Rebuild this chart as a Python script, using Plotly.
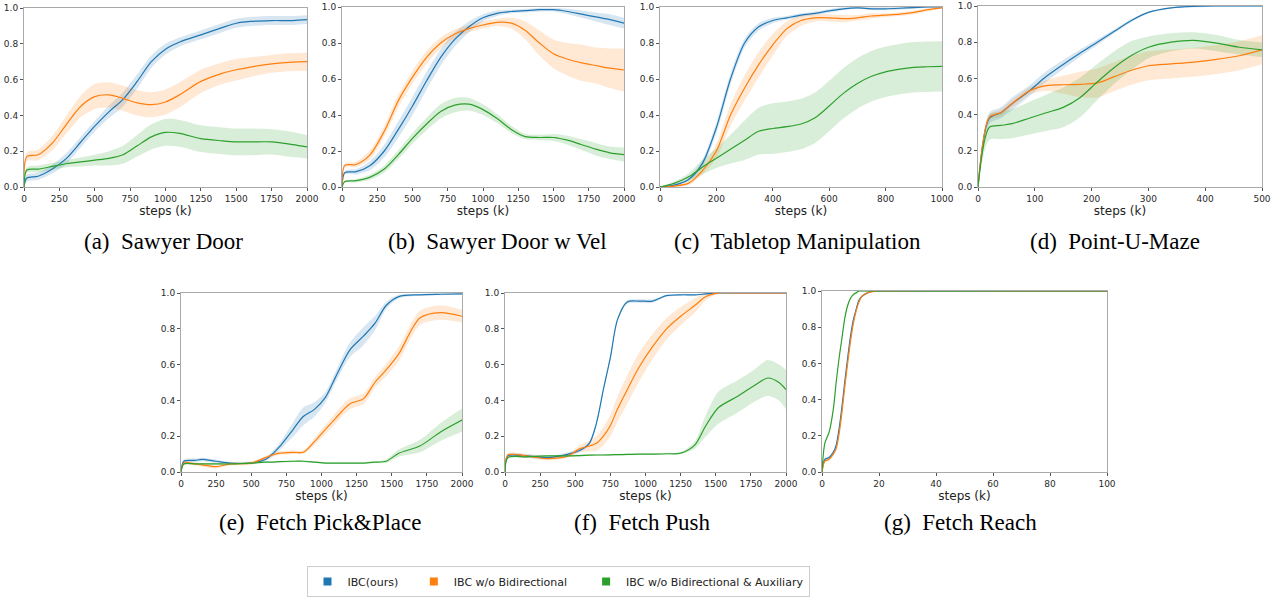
import plotly.graph_objects as go

W, H = 1278, 599

# ---------------- data ----------------
# (a) Sawyer Door
a_x = [0, 20, 100, 200, 300, 400, 500, 600, 700, 800, 900, 1000, 1100, 1250, 1400, 1500, 1600, 1750, 1900, 2000]
a_blue = [0, .05, .06, .1, .16, .25, .34, .42, .49, .59, .70, .77, .81, .85, .89, .915, .925, .93, .93, .935]
a_blue_s = [0, .02, .02, .025, .03, .03, .03, .035, .04, .04, .035, .03, .025, .025, .025, .025, .025, .025, .025, .025]
a_orange = [0, .17, .18, .245, .35, .45, .505, .515, .495, .47, .46, .475, .515, .59, .635, .655, .67, .688, .698, .70]
a_orange_s = [0, .025, .03, .04, .05, .06, .07, .07, .07, .07, .07, .07, .07, .065, .06, .06, .055, .05, .05, .05]
a_green = [0, .095, .1, .115, .13, .14, .15, .16, .18, .23, .28, .305, .30, .27, .258, .252, .252, .252, .237, .224]
a_green_s = [0, .015, .02, .02, .02, .025, .03, .04, .05, .06, .07, .075, .075, .075, .075, .075, .075, .07, .07, .065]

# (b) Sawyer Door w Vel
b_x = [0, 20, 100, 200, 300, 400, 500, 600, 700, 800, 900, 1000, 1100, 1200, 1300, 1400, 1500, 1600, 1700, 1800, 1900, 2000]
b_blue = [0, .08, .085, .12, .2, .32, .45, .59, .72, .82, .89, .94, .965, .975, .98, .985, .985, .975, .96, .945, .93, .91]
b_blue_s = [0, .01, .015, .025, .035, .045, .05, .05, .045, .04, .03, .02, .015, .01, .01, .01, .01, .015, .02, .025, .03, .03]
b_orange = [0, .12, .125, .18, .31, .48, .61, .72, .8, .85, .88, .9, .915, .91, .87, .8, .74, .71, .69, .675, .66, .65]
b_orange_s = [0, .01, .015, .025, .03, .035, .035, .035, .03, .025, .02, .02, .02, .03, .05, .07, .08, .09, .1, .1, .11, .12]
b_green = [0, .03, .035, .055, .1, .18, .27, .35, .42, .455, .46, .43, .38, .32, .28, .275, .275, .26, .235, .21, .19, .18]
b_green_s = [0, .005, .01, .015, .02, .025, .03, .035, .04, .04, .035, .03, .025, .02, .015, .015, .02, .025, .03, .035, .035, .04]

# (c) Tabletop Manipulation
c_x = [0, 50, 100, 150, 200, 250, 300, 350, 400, 450, 500, 550, 600, 650, 700, 750, 800, 850, 900, 950, 1000]
c_blue = [0, .01, .04, .13, .33, .6, .8, .89, .925, .94, .955, .965, .978, .99, .995, .99, .99, .993, .997, 1.0, 1.0]
c_blue_s = [0, .005, .01, .02, .03, .03, .025, .02, .015, .01, .01, .01, .01, .008, .005, .008, .008, .008, .005, .005, .005]
c_orange = [0, .005, .02, .09, .2, .4, .55, .68, .79, .88, .925, .94, .94, .935, .94, .95, .955, .96, .97, .985, .995]
c_orange_s = [0, .005, .01, .02, .04, .06, .07, .07, .06, .04, .03, .02, .02, .02, .015, .015, .01, .01, .01, .008, .005]
c_green = [0, .02, .055, .11, .16, .21, .26, .31, .325, .335, .35, .385, .45, .52, .575, .615, .64, .655, .665, .668, .67]
c_green_s = [0, .01, .02, .04, .055, .08, .11, .13, .14, .14, .14, .14, .14, .14, .14, .14, .14, .14, .14, .14, .14]

# (d) Point-U-Maze
d_x = [0, 20, 40, 60, 90, 120, 150, 180, 210, 240, 270, 300, 340, 380, 420, 460, 500]
d_blue = [0, .38, .41, .46, .53, .61, .677, .74, .8, .86, .92, .965, .99, .998, 1.0, 1.0, 1.0]
d_blue_s = [0, .03, .03, .035, .03, .03, .025, .02, .015, .01, .008, .005, .005, .005, .005, .005, .005]
d_orange = [0, .385, .41, .46, .53, .56, .565, .567, .575, .61, .645, .67, .68, .69, .705, .725, .758]
d_orange_s = [0, .015, .02, .02, .02, .03, .05, .07, .08, .08, .08, .08, .08, .08, .08, .08, .08]
d_green = [0, .33, .34, .35, .38, .41, .44, .495, .58, .66, .726, .772, .8, .81, .795, .772, .758]
d_green_s = [0, .07, .075, .08, .09, .1, .11, .11, .1, .09, .08, .06, .05, .045, .045, .04, .04]

# (e) Fetch Pick&Place
e_x = [0, 20, 100, 150, 250, 350, 500, 600, 650, 700, 800, 870, 950, 1030, 1100, 1200, 1300, 1380, 1460, 1550, 1700, 1850, 2000]
e_blue = [0, .06, .065, .07, .06, .05, .05, .07, .1, .14, .24, .31, .35, .42, .53, .68, .76, .83, .93, .98, .99, .993, .995]
e_blue_s = [0, .01, .01, .01, .01, .005, .005, .01, .015, .02, .04, .05, .04, .03, .03, .04, .05, .04, .02, .01, .005, .005, .005]
e_orange = [0, .05, .045, .04, .03, .045, .05, .08, .095, .105, .11, .11, .17, .24, .3, .38, .41, .5, .57, .66, .86, .89, .87]
e_orange_s = [0, .01, .01, .01, .01, .01, .01, .01, .01, .01, .01, .01, .02, .025, .03, .03, .03, .03, .035, .04, .04, .04, .035]
e_green = [0, .045, .045, .045, .045, .045, .05, .055, .055, .058, .06, .06, .055, .05, .05, .05, .05, .055, .06, .105, .145, .225, .29]
e_green_s = [0, .005, .005, .005, .005, .005, .005, .005, .005, .005, .005, .005, .005, .005, .005, .005, .005, .005, .01, .02, .035, .05, .065]

# (f) Fetch Push
f_x = [0, 20, 150, 300, 450, 530, 600, 650, 700, 750, 800, 870, 950, 1050, 1150, 1250, 1350, 1430, 1520, 1650, 1770, 1870, 1950, 2000]
f_blue = [0, .09, .09, .08, .1, .12, .16, .27, .46, .64, .85, .95, .955, .955, .985, .99, .99, .995, 1.0, 1.0, 1.0, 1.0, 1.0, 1.0]
f_blue_s = [0, .01, .01, .01, .01, .01, .01, .01, .01, .01, .01, .01, .01, .01, .005, .005, .005, .005, .005, .005, .005, .005, .005, .005]
f_orange = [0, .095, .09, .075, .09, .13, .145, .16, .2, .26, .35, .46, .58, .7, .8, .87, .93, .98, 1.0, 1.0, 1.0, 1.0, 1.0, 1.0]
f_orange_s = [0, .01, .01, .01, .01, .02, .03, .04, .05, .06, .07, .08, .08, .07, .06, .05, .04, .02, .005, .005, .005, .005, .005, .005]
f_green = [0, .08, .085, .09, .09, .092, .094, .095, .095, .096, .097, .098, .1, .1, .102, .105, .15, .26, .36, .42, .48, .525, .5, .46]
f_green_s = [0, .005, .005, .005, .005, .005, .005, .005, .005, .005, .005, .005, .005, .005, .005, .005, .02, .06, .09, .09, .09, .1, .1, .11]

# (g) Fetch Reach
g_x = [0, 1, 2.5, 4, 5, 6, 7, 8, 9, 10, 11, 12, 13, 14, 16, 18, 20, 100]
g_blue = [0, .07, .08, .11, .15, .24, .36, .5, .63, .75, .84, .9, .95, .97, .99, 1.0, 1.0, 1.0]
g_orange = [0, .06, .07, .1, .13, .21, .33, .47, .6, .72, .82, .89, .94, .97, .99, .998, 1.0, 1.0]
g_green = [0, .16, .22, .35, .5, .63, .74, .85, .92, .96, .98, .99, 1.0, 1.0, 1.0, 1.0, 1.0, 1.0]
g_spread = [0, .008, .008, .008, .008, .008, .008, .008, .008, .008, .008, .008, .006, .006, .006, .006, .006, .006]

captions = ["(a)\u00a0 Sawyer Door", "(b)\u00a0 Sawyer Door w Vel", "(c)\u00a0 Tabletop Manipulation",
            "(d)\u00a0 Point-U-Maze", "(e)\u00a0 Fetch Pick&Place", "(f)\u00a0 Fetch Push", "(g)\u00a0 Fetch Reach"]
series_names = ["IBC(ours)", "IBC w/o Bidirectional", "IBC w/o Bidirectional & Auxiliary"]
legend_pad = ["\u00a0\u00a0\u00a0", "\u00a0\u00a0\u00a0\u00a0", ""]
colors = ["#1f77b4", "#ff7f0e", "#2ca02c"]
fills = ["rgba(31,119,180,0.18)", "rgba(255,127,14,0.18)", "rgba(44,160,44,0.18)"]

panels = [
    dict(x=a_x, ys=[a_blue, a_orange, a_green], ss=[a_blue_s, a_orange_s, a_green_s], xr=2000, dt=250),
    dict(x=b_x, ys=[b_blue, b_orange, b_green], ss=[b_blue_s, b_orange_s, b_green_s], xr=2000, dt=250),
    dict(x=c_x, ys=[c_blue, c_orange, c_green], ss=[c_blue_s, c_orange_s, c_green_s], xr=1000, dt=200),
    dict(x=d_x, ys=[d_blue, d_orange, d_green], ss=[d_blue_s, d_orange_s, d_green_s], xr=500, dt=100),
    dict(x=e_x, ys=[e_blue, e_orange, e_green], ss=[e_blue_s, e_orange_s, e_green_s], xr=2000, dt=250),
    dict(x=f_x, ys=[f_blue, f_orange, f_green], ss=[f_blue_s, f_orange_s, f_green_s], xr=2000, dt=250),
    dict(x=g_x, ys=[g_blue, g_orange, g_green], ss=[g_spread, g_spread, g_spread], xr=100, dt=20),
]

# pixel boxes (left, right, top, bottom) for each axes
boxes = [(24, 307, 8, 187), (342, 624, 7, 187), (660, 942, 7, 187), (978, 1262, 6, 187),
         (181, 462, 293, 472), (505, 786, 293, 472), (822, 1107, 291, 472)]
cap_pos = [(163, 242), (497, 242), (797, 242), (1115, 242), (320, 522), (642, 522), (960, 522)]

fig = go.Figure()
layout = {}
annotations = []
for i, p in enumerate(panels):
    n = i + 1
    xa = "x" if n == 1 else f"x{n}"
    ya = "y" if n == 1 else f"y{n}"
    # bands first
    for k in range(3):
        m, s = p["ys"][k], p["ss"][k]
        lo = [max(0.0, v - d) for v, d in zip(m, s)]
        hi = [min(1.0, v + d) for v, d in zip(m, s)]
        fig.add_trace(go.Scatter(x=p["x"], y=lo, xaxis=xa, yaxis=ya, mode="lines",
                                 line=dict(width=0, shape="spline", smoothing=0.8),
                                 showlegend=False, hoverinfo="skip"))
        fig.add_trace(go.Scatter(x=p["x"], y=hi, xaxis=xa, yaxis=ya, mode="lines", fill="tonexty",
                                 fillcolor=fills[k], line=dict(width=0, shape="spline", smoothing=0.8),
                                 showlegend=False, hoverinfo="skip"))
    for k in range(3):
        fig.add_trace(go.Scatter(x=p["x"], y=p["ys"][k], xaxis=xa, yaxis=ya, mode="lines",
                                 line=dict(color=colors[k], width=1.2, shape="spline", smoothing=0.8),
                                 showlegend=False, name=series_names[k]))
    l, r, t, b = boxes[i]
    axcommon = dict(showgrid=False, zeroline=False, showline=True, linecolor="#aaaaaa", linewidth=1,
                    mirror=True, ticks="outside", ticklen=3, tickcolor="#555555",
                    tickfont=dict(family="DejaVu Sans", size=9, color="#2a2a2a"))
    layout["xaxis" if n == 1 else f"xaxis{n}"] = dict(
        domain=[l / W, r / W], anchor=ya, range=[0, p["xr"]], tickmode="linear", tick0=0, dtick=p["dt"],
        title=dict(text="steps (k)", font=dict(family="DejaVu Sans", size=12, color="#222222"), standoff=1),
        **axcommon)
    layout["yaxis" if n == 1 else f"yaxis{n}"] = dict(
        domain=[1 - b / H, 1 - t / H], anchor=xa, range=[0, 1.0], tickmode="linear", tick0=0, dtick=0.2,
        tickformat=".1f", **axcommon)
    cx, cy = cap_pos[i]
    annotations.append(dict(text=captions[i], x=cx / W, y=1 - cy / H, xref="paper", yref="paper",
                            xanchor="center", yanchor="middle", showarrow=False,
                            font=dict(family="Liberation Serif", size=23, color="black")))

# legend-only entries
for k in range(3):
    fig.add_trace(go.Scatter(x=[None], y=[None], mode="markers", name=series_names[k] + legend_pad[k],
                             marker=dict(symbol="square", size=8, color=colors[k]), showlegend=True))

fig.update_layout(
    autosize=True, margin=dict(l=0, r=0, t=0, b=0, autoexpand=False),
    paper_bgcolor="white", plot_bgcolor="white",
    annotations=annotations,
    legend=dict(orientation="h", traceorder="normal", x=558 / W, xanchor="center",
                y=1 - 597 / H, yanchor="bottom",
                bordercolor="#cccccc", borderwidth=1, bgcolor="white",
                font=dict(family="DejaVu Sans", size=11, color="#222222")),
    **layout,
)

fig.write_html("out.html", default_width="100vw", default_height="100vh",
               config={"displayModeBar": False, "responsive": True},
               post_script="document.body.style.margin='0px';document.body.style.overflow='hidden';")
